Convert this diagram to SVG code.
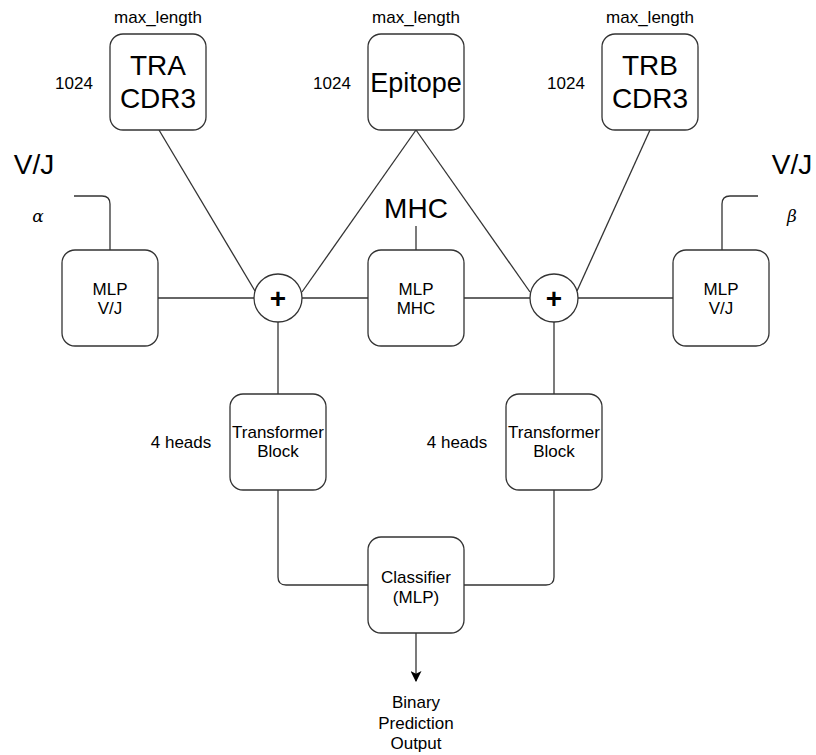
<svg xmlns="http://www.w3.org/2000/svg" width="816" height="755" viewBox="0 0 816 755">
  <defs>
    <style>
      .box { fill: #ffffff; stroke: #333333; stroke-width: 1.3; }
      .wire { fill: none; stroke: #333333; stroke-width: 1.3; }
      .t { font-family: "Liberation Sans", Arial, Helvetica, sans-serif; fill: #000000; text-anchor: middle; }
      .big { font-size: 28px; }
      .small { font-size: 17px; }
      .plus { font-size: 28px; font-weight: bold; }
      .greek { font-family: "DejaVu Serif", "Liberation Serif", serif; font-style: italic; font-size: 17px; fill: #000000; text-anchor: middle; }
    </style>
    <marker id="arrow" viewBox="0 0 10 10" refX="9" refY="5" markerWidth="11" markerHeight="11" markerUnits="userSpaceOnUse" orient="auto">
      <path d="M0,0 L10,5 L0,10 L2.5,5 Z" fill="#000000"/>
    </marker>
  </defs>
  <rect width="816" height="755" fill="#ffffff"/>

  <!-- connectors -->
  <g id="connectors">
    <line class="wire" x1="159" y1="130" x2="255" y2="291"/>
    <line class="wire" x1="416" y1="130" x2="302" y2="292"/>
    <line class="wire" x1="416" y1="130" x2="530" y2="292"/>
    <line class="wire" x1="650" y1="130" x2="577" y2="291"/>
    <line class="wire" x1="158" y1="298" x2="254" y2="298"/>
    <line class="wire" x1="302" y1="298" x2="368" y2="298"/>
    <line class="wire" x1="464" y1="298" x2="530" y2="298"/>
    <line class="wire" x1="578" y1="298" x2="673" y2="298"/>
    <line class="wire" x1="416" y1="226" x2="416" y2="250"/>
    <path class="wire" d="M74,196 H102 Q110,196 110,204 V250"/>
    <path class="wire" d="M758,196 H730 Q722,196 722,204 V250"/>
    <line class="wire" x1="278" y1="322" x2="278" y2="394"/>
    <line class="wire" x1="554" y1="322" x2="554" y2="394"/>
    <path class="wire" d="M278,490 V577 Q278,585 286,585 H368"/>
    <path class="wire" d="M554,490 V577 Q554,585 546,585 H464"/>
    <line class="wire" x1="416" y1="633" x2="416" y2="681" marker-end="url(#arrow)"/>
  </g>

  <!-- input sequences -->
  <g id="tra-cdr3">
    <rect class="box" x="110" y="34" width="96" height="96" rx="13"/>
    <text class="t big" x="158" y="75">TRA</text>
    <text class="t big" x="158" y="108">CDR3</text>
    <text class="t small" x="158" y="23">max_length</text>
    <text class="t small" x="74" y="89">1024</text>
  </g>
  <g id="epitope">
    <rect class="box" x="368" y="34" width="96" height="96" rx="13"/>
    <text class="t big" x="416" y="92" style="font-size:27px">Epitope</text>
    <text class="t small" x="416" y="23">max_length</text>
    <text class="t small" x="332" y="89">1024</text>
  </g>
  <g id="trb-cdr3">
    <rect class="box" x="602" y="34" width="96" height="96" rx="13"/>
    <text class="t big" x="650" y="75">TRB</text>
    <text class="t big" x="650" y="108">CDR3</text>
    <text class="t small" x="650" y="23">max_length</text>
    <text class="t small" x="566" y="89">1024</text>
  </g>

  <!-- side inputs -->
  <g id="vj-alpha">
    <text class="t big" x="34" y="174">V/J</text>
    <text class="greek" x="38" y="222">α</text>
  </g>
  <g id="vj-beta">
    <text class="t big" x="792" y="174">V/J</text>
    <text class="greek" x="792" y="222">β</text>
  </g>
  <g id="mhc-label">
    <text class="t big" x="416" y="218">MHC</text>
  </g>

  <!-- embedding MLPs -->
  <g id="mlp-vj-left">
    <rect class="box" x="62" y="250" width="96" height="96" rx="13"/>
    <text class="t small" x="110" y="295">MLP</text>
    <text class="t small" x="110" y="314">V/J</text>
  </g>
  <g id="mlp-mhc">
    <rect class="box" x="368" y="250" width="96" height="96" rx="13"/>
    <text class="t small" x="416" y="295">MLP</text>
    <text class="t small" x="416" y="314">MHC</text>
  </g>
  <g id="mlp-vj-right">
    <rect class="box" x="673" y="250" width="96" height="96" rx="13"/>
    <text class="t small" x="721" y="295">MLP</text>
    <text class="t small" x="721" y="314">V/J</text>
  </g>

  <!-- summation nodes -->
  <g id="sum-left">
    <circle class="box" cx="278" cy="298" r="24"/>
    <text class="t plus" x="278" y="308">+</text>
  </g>
  <g id="sum-right">
    <circle class="box" cx="554" cy="298" r="24"/>
    <text class="t plus" x="554" y="308">+</text>
  </g>

  <!-- transformer blocks -->
  <g id="transformer-left">
    <rect class="box" x="230" y="394" width="96" height="96" rx="13"/>
    <text class="t small" x="278" y="438">Transformer</text>
    <text class="t small" x="278" y="457">Block</text>
    <text class="t small" x="181" y="448">4 heads</text>
  </g>
  <g id="transformer-right">
    <rect class="box" x="506" y="394" width="96" height="96" rx="13"/>
    <text class="t small" x="554" y="438">Transformer</text>
    <text class="t small" x="554" y="457">Block</text>
    <text class="t small" x="457" y="448">4 heads</text>
  </g>

  <!-- classifier and output -->
  <g id="classifier">
    <rect class="box" x="368" y="537" width="96" height="96" rx="13"/>
    <text class="t small" x="416" y="583">Classifier</text>
    <text class="t small" x="416" y="603">(MLP)</text>
  </g>
  <g id="output">
    <text class="t small" x="416" y="708">Binary</text>
    <text class="t small" x="416" y="729">Prediction</text>
    <text class="t small" x="416" y="749">Output</text>
  </g>
</svg>
